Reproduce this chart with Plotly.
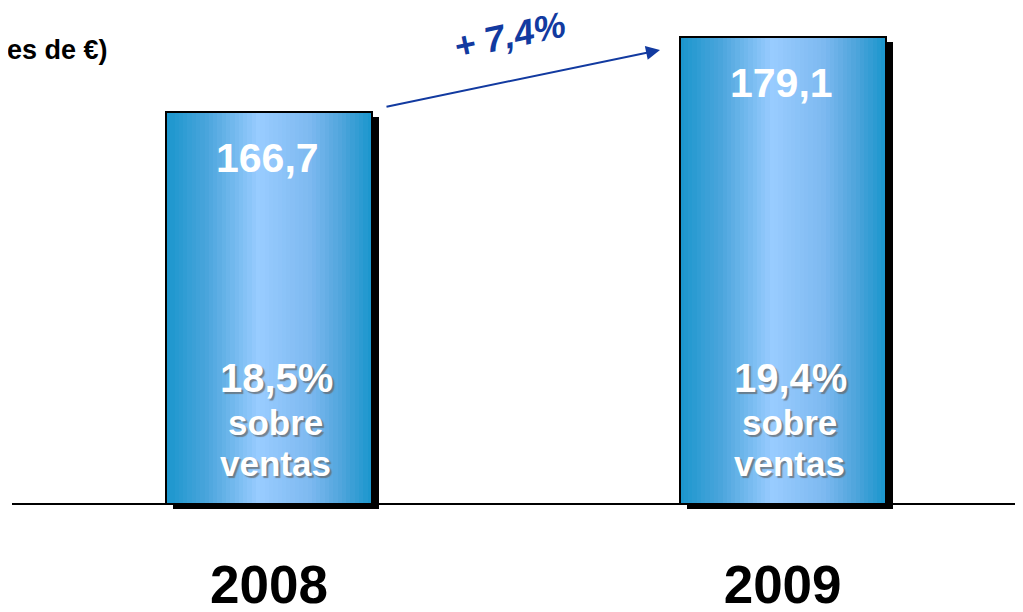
import plotly.graph_objects as go

# ---- data ----
years = ["2008", "2009"]
ebitda = [166.7, 179.1]
value_labels = ["166,7", "179,1"]
margin_labels = ["18,5%", "19,4%"]
sub_line1 = "sobre"
sub_line2 = "ventas"
growth_label = "+ 7,4%"
unit_label = "(Millones de €)"

# ---- geometry / styling ----
W, H = 1015, 604       # plot width / figure height (page body adds an 8px margin)
PLOT_H = 506
BASE = 101.89          # value at the drawn baseline
Y_RANGE = [100.24, 183.9]
X_RANGE = [-0.508, 1.468]
BAR_W = 0.401
PX_X = W / (X_RANGE[1] - X_RANGE[0])
PX_Y = PLOT_H / (Y_RANGE[1] - Y_RANGE[0])
FONT = "Liberation Sans, Arial, sans-serif"
BLUE = "rgb(18,58,160)"
SHADOW = "2px 2px 1px rgba(100,100,100,0.7)"


def px(xr):  # reference-pixel x -> paper
    return (xr - 8) / W


def py(yr):  # reference-pixel y -> paper
    return 1 - (yr - 8) / PLOT_H


# horizontal gradient stops (position, rgb)
stops = [(0.0, (25, 150, 205)), (0.2, (75, 165, 220)), (0.45, (153, 204, 255)),
         (0.7, (125, 185, 240)), (0.85, (80, 165, 220)), (1.0, (25, 150, 205))]


def grad(t):
    for (p0, c0), (p1, c1) in zip(stops[:-1], stops[1:]):
        if p0 <= t <= p1:
            f = (t - p0) / (p1 - p0)
            c = [round(a + (b - a) * f) for a, b in zip(c0, c1)]
            return f"rgb({c[0]},{c[1]},{c[2]})"
    return "rgb(25,150,205)"


fig = go.Figure()
heights = [v - BASE for v in ebitda]

# shadow
sx = 7 / PX_X
sy = 5 / PX_Y
fig.add_trace(go.Bar(x=years, y=heights, base=BASE - sy, width=BAR_W,
                     offset=-BAR_W / 2 + sx, marker=dict(color="black", line=dict(width=0)),
                     hoverinfo="skip", showlegend=False))

# gradient strips
N = 48
sw = BAR_W / N
for i in range(N):
    t = (i + 0.5) / N
    fig.add_trace(go.Bar(x=years, y=heights, base=BASE, width=sw * 1.08,
                         offset=-BAR_W / 2 + i * sw,
                         marker=dict(color=grad(t), line=dict(width=0)),
                         hoverinfo="skip", showlegend=False))

# outline
fig.add_trace(go.Bar(x=years, y=heights, base=BASE, width=BAR_W, offset=-BAR_W / 2,
                     marker=dict(color="rgba(0,0,0,0)", line=dict(color="black", width=2)),
                     showlegend=False))

annotations = []
for i, yr in enumerate(years):
    annotations.append(dict(x=i, y=ebitda[i], xref="x", yref="y", text=value_labels[i],
                            showarrow=False, yshift=-46, xshift=-1, yanchor="middle",
                            font=dict(family=FONT, size=41, color="white", weight="bold")))
    annotations.append(dict(x=i, y=BASE, xref="x", yref="y", text=margin_labels[i],
                            showarrow=False, yshift=126, xshift=8, yanchor="middle",
                            font=dict(family=FONT, size=40, color="white", weight="bold",
                                      shadow=SHADOW)))
    annotations.append(dict(x=i, y=BASE, xref="x", yref="y", text=sub_line1,
                            showarrow=False, yshift=82, xshift=7, yanchor="middle",
                            font=dict(family=FONT, size=35, color="white", weight="bold",
                                      shadow=SHADOW)))
    annotations.append(dict(x=i, y=BASE, xref="x", yref="y", text=sub_line2,
                            showarrow=False, yshift=41, xshift=7, yanchor="middle",
                            font=dict(family=FONT, size=35, color="white", weight="bold",
                                      shadow=SHADOW)))

# growth arrow
annotations.append(dict(x=px(660), y=py(50), xref="paper", yref="paper",
                        ax=-275, ay=57, axref="pixel", ayref="pixel", text="",
                        showarrow=True, arrowhead=2, arrowsize=1.4, arrowwidth=2,
                        arrowcolor=BLUE, standoff=0))
annotations.append(dict(x=px(509), y=py(35), xref="paper", yref="paper",
                        text=growth_label, showarrow=False, textangle=-12,
                        xanchor="center", yanchor="middle",
                        font=dict(family=FONT, size=36, color=BLUE,
                                  weight="bold", style="italic")))
# unit label (clipped at left like the reference)
annotations.append(dict(x=px(110), y=py(50), xref="paper", yref="paper",
                        text=unit_label, showarrow=False, xanchor="right", yanchor="middle",
                        font=dict(family=FONT, size=27, color="black", weight="bold")))

base_paper = (BASE - Y_RANGE[0]) / (Y_RANGE[1] - Y_RANGE[0])

fig.update_layout(
    width=W + 8, height=H,
    margin=dict(l=0, r=8, t=0, b=H - PLOT_H, autoexpand=False),
    paper_bgcolor="white", plot_bgcolor="white",
    barmode="overlay", bargap=0,
    shapes=[dict(type="line", xref="paper", yref="paper", x0=px(12), x1=px(1031),
                 y0=base_paper, y1=base_paper, line=dict(color="black", width=2),
                 layer="below")],
    annotations=annotations,
    xaxis=dict(type="category", range=X_RANGE, showgrid=False, zeroline=False,
               showline=False, ticks="", automargin=False,
               tickfont=dict(family=FONT, size=53, color="black", weight="bold"),
               ticklabelstandoff=35),
    yaxis=dict(range=Y_RANGE, visible=False, showgrid=False, zeroline=False,
               automargin=False),
)

fig.write_html("out.html")
